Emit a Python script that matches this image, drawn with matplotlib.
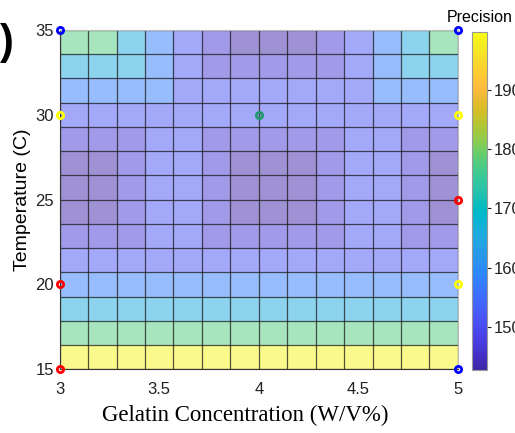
import numpy as np
import matplotlib.pyplot as plt
from matplotlib.colors import LinearSegmentedColormap

# parula (64 steps)
parula_rgb = [
    [0.2422, 0.1504, 0.6603], [0.2504, 0.1650, 0.7076], [0.2578, 0.1818, 0.7511],
    [0.2647, 0.1978, 0.7952], [0.2706, 0.2147, 0.8364], [0.2751, 0.2342, 0.8710],
    [0.2783, 0.2559, 0.8991], [0.2803, 0.2782, 0.9221], [0.2813, 0.3006, 0.9414],
    [0.2810, 0.3228, 0.9579], [0.2795, 0.3447, 0.9717], [0.2760, 0.3667, 0.9829],
    [0.2699, 0.3892, 0.9906], [0.2602, 0.4123, 0.9952], [0.2440, 0.4358, 0.9988],
    [0.2206, 0.4603, 0.9973], [0.1963, 0.4847, 0.9892], [0.1834, 0.5074, 0.9798],
    [0.1786, 0.5289, 0.9682], [0.1764, 0.5499, 0.9520], [0.1687, 0.5703, 0.9359],
    [0.1540, 0.5902, 0.9218], [0.1460, 0.6091, 0.9079], [0.1380, 0.6276, 0.8973],
    [0.1248, 0.6459, 0.8883], [0.1113, 0.6635, 0.8763], [0.0952, 0.6798, 0.8598],
    [0.0689, 0.6948, 0.8394], [0.0297, 0.7082, 0.8163], [0.0036, 0.7203, 0.7917],
    [0.0067, 0.7312, 0.7660], [0.0433, 0.7411, 0.7394], [0.0964, 0.7500, 0.7120],
    [0.1408, 0.7584, 0.6842], [0.1717, 0.7670, 0.6554], [0.1938, 0.7758, 0.6251],
    [0.2161, 0.7843, 0.5923], [0.2470, 0.7918, 0.5567], [0.2906, 0.7973, 0.5188],
    [0.3406, 0.8008, 0.4789], [0.3909, 0.8029, 0.4354], [0.4456, 0.8024, 0.3909],
    [0.5044, 0.7993, 0.3480], [0.5616, 0.7942, 0.3045], [0.6174, 0.7876, 0.2612],
    [0.6720, 0.7793, 0.2227], [0.7242, 0.7698, 0.1910], [0.7738, 0.7598, 0.1646],
    [0.8203, 0.7498, 0.1535], [0.8634, 0.7406, 0.1596], [0.9035, 0.7330, 0.1774],
    [0.9393, 0.7288, 0.2100], [0.9728, 0.7298, 0.2394], [0.9956, 0.7434, 0.2371],
    [0.9970, 0.7659, 0.2199], [0.9952, 0.7893, 0.2028], [0.9892, 0.8136, 0.1885],
    [0.9786, 0.8386, 0.1766], [0.9676, 0.8639, 0.1643], [0.9610, 0.8890, 0.1537],
    [0.9597, 0.9135, 0.1423], [0.9628, 0.9373, 0.1265], [0.9691, 0.9606, 0.1064],
    [0.9769, 0.9839, 0.0805],
]
parula = LinearSegmentedColormap.from_list('parula', parula_rgb)

# grid edges
gelatin = np.linspace(3, 5, 15)
temperature = np.linspace(15, 35, 15)

# precision per cell, rows listed from 15 C upward
A, B, C, D, E, F, G = 199.0, 177.7, 165.9, 157.6, 150.9, 146.3, 143.0
precision = [
    [A, A, A, A, A, A, A, A, A, A, A, A, A, A],
    [B, B, B, B, B, B, B, B, B, B, B, B, B, B],
    [C, C, C, C, C, C, C, C, C, C, C, C, C, C],
    [D, D, D, D, D, D, D, D, D, D, D, D, D, D],
    [E, E, E, E, E, E, E, E, E, E, E, E, E, E],
    [F, F, F, E, E, F, F, F, F, F, E, E, F, F],
    [G, G, F, E, E, F, G, G, G, F, E, E, F, G],
    [G, G, F, E, E, F, G, G, G, F, E, E, F, G],
    [G, G, F, E, E, F, G, G, G, F, E, E, F, G],
    [F, F, F, E, E, F, F, F, F, F, E, E, F, F],
    [E, E, E, E, E, E, E, E, E, E, E, E, E, E],
    [D, D, D, D, E, E, E, E, E, E, E, D, D, D],
    [C, C, C, D, E, F, F, F, F, F, E, D, C, C],
    [B, B, C, D, E, F, G, G, G, F, E, D, C, B],
]
vmin, vmax = 142.7, 199.9

# measured points
pts_x = [3, 5, 5, 3, 5, 5, 3, 3, 5, 4]
pts_y = [35, 35, 15, 30, 30, 20, 20, 15, 25, 30]
pts_color = ['#0000ff', '#0000ff', '#0000ff', '#ffff00', '#ffff00', '#ffff00',
             '#ff0000', '#ff0000', '#ff0000', '#1f9a6a']

sans = ['Liberation Sans', 'DejaVu Sans']
serif = ['Liberation Serif', 'DejaVu Serif']

fig = plt.figure(figsize=(5.15, 4.33), dpi=100)
ax = fig.add_axes([0.116, 0.147, 0.773, 0.784])
cax = fig.add_axes([0.916, 0.146, 0.030, 0.781])

mesh = ax.pcolormesh(gelatin, temperature, np.array(precision), cmap=parula,
                     vmin=vmin, vmax=vmax, alpha=0.5, edgecolors='none')
ax.vlines(gelatin, 15, 35, colors='#1a1a1a', linewidth=0.9, alpha=0.75)
ax.hlines(temperature, 3, 5, colors='#1a1a1a', linewidth=0.9, alpha=0.75)

for x, y, c in zip(pts_x, pts_y, pts_color):
    ax.plot(x, y, 'o', ms=4.5, mfc='none', mec=c, mew=2, clip_on=False, zorder=5)

ax.set_xlim(3, 5)
ax.set_ylim(15, 35)
ax.set_xticks([3, 3.5, 4, 4.5, 5])
ax.set_xticklabels(['3', '3.5', '4', '4.5', '5'])
ax.set_yticks([15, 20, 25, 30, 35])
ax.tick_params(length=0, labelsize=12, colors='#222222')
ax.tick_params(axis='x', pad=9)
ax.tick_params(axis='y', pad=4)
for lab in ax.get_xticklabels() + ax.get_yticklabels():
    lab.set_family(sans)
for side in ['left', 'bottom']:
    ax.spines[side].set_color('#333333')
for side in ['top', 'right']:
    ax.spines[side].set_color('#bbbbbb')

ax.set_xlabel('Gelatin Concentration (W/V%)', family=serif, fontsize=16.5)
ax.xaxis.set_label_coords(0.465, -0.105)
ax.set_ylabel('Temperature (C)', family=sans, fontsize=14, labelpad=3)

cb = fig.colorbar(mesh, cax=cax)
cb.solids.set_alpha(1)
cb.set_ticks([150, 160, 170, 180, 190])
cb.ax.tick_params(length=3, direction='out', labelsize=12, pad=2, colors='#222222')
for lab in cb.ax.get_yticklabels():
    lab.set_family(sans)
cb.outline.set_edgecolor('#999999')
cb.ax.set_title('Precision', family=sans, fontsize=11.5, pad=7)

fig.text(0.0, 0.90, ')', family=sans, fontsize=30, fontweight='bold',
         ha='left', va='center')

fig.savefig('out.png', dpi=100)
